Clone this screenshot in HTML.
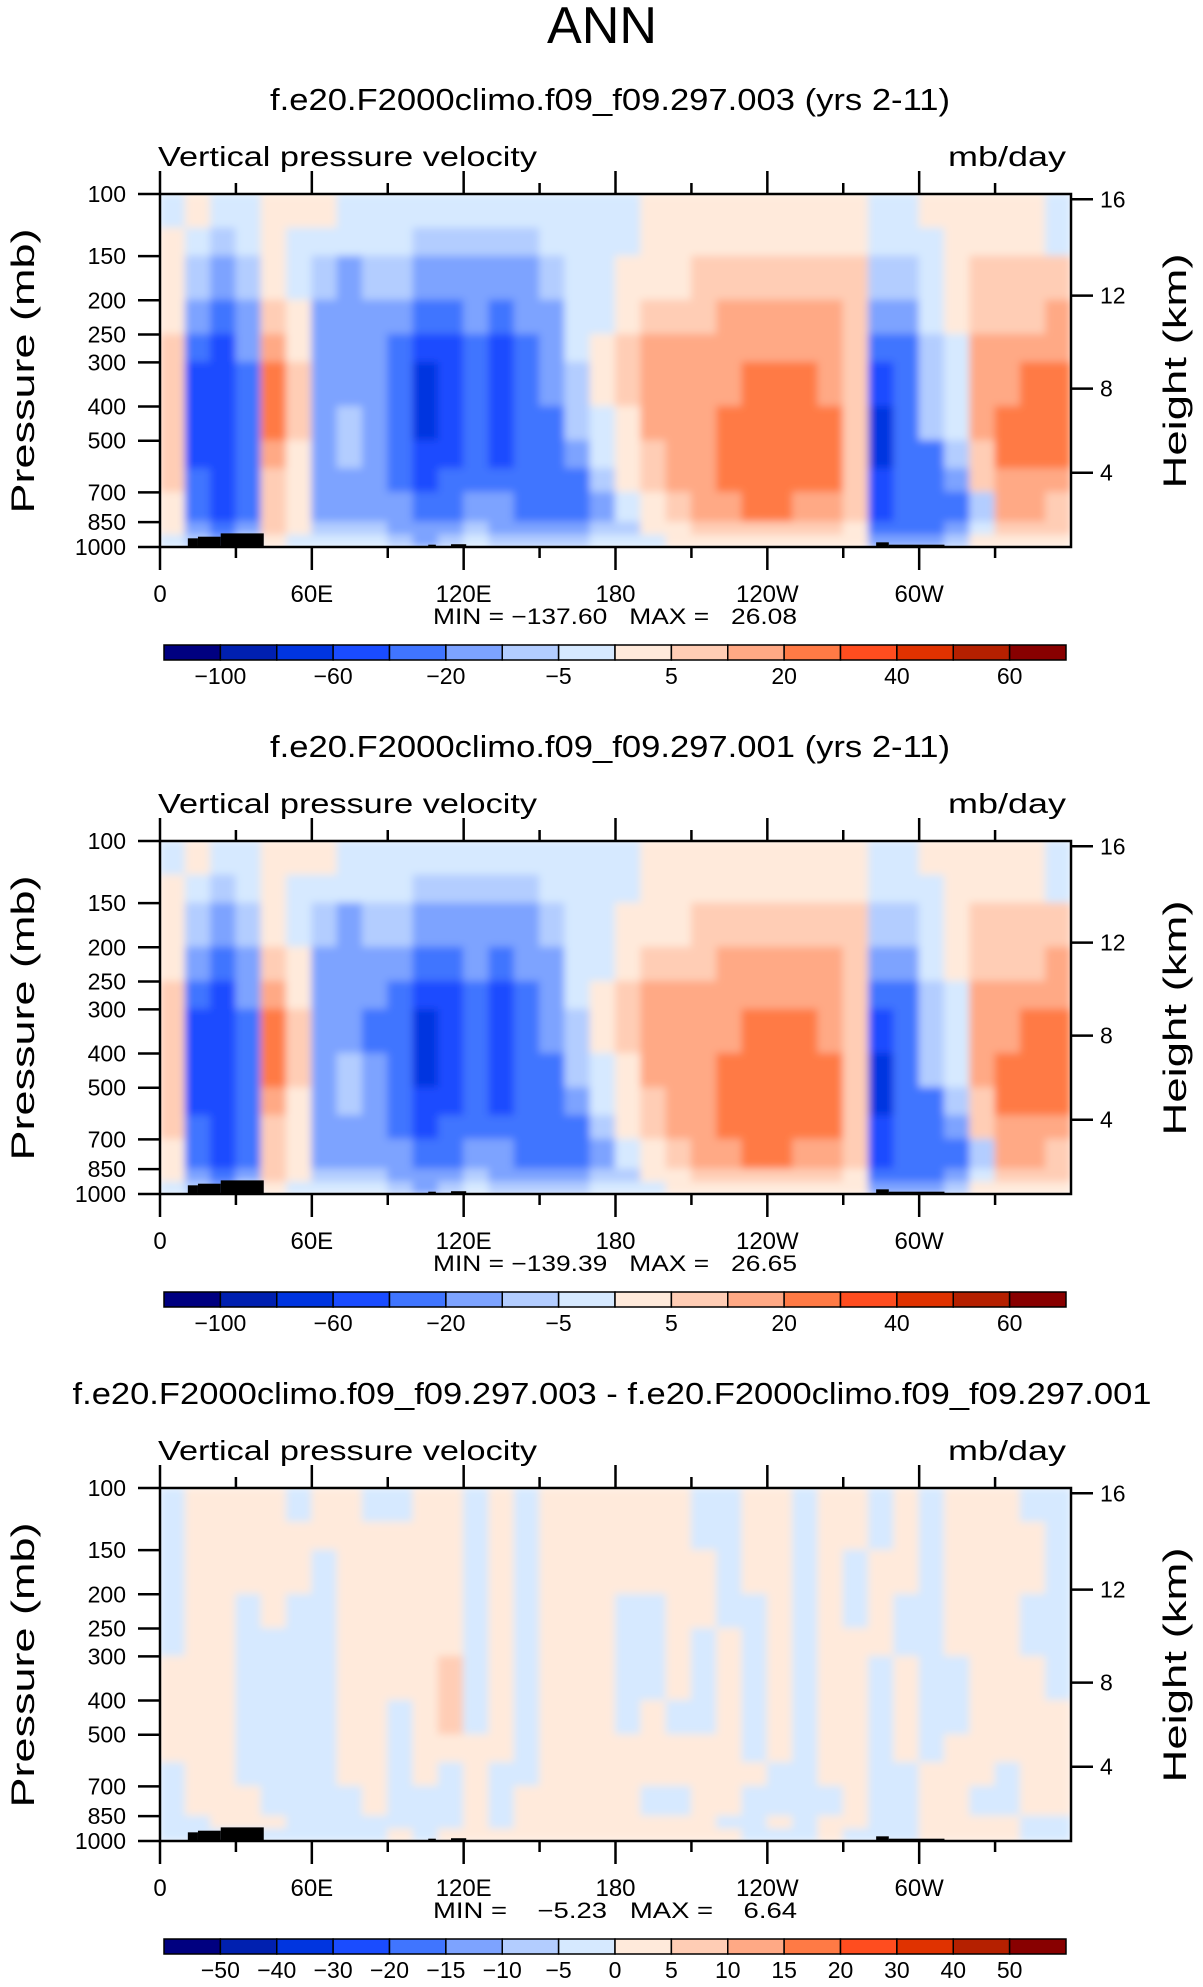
<!DOCTYPE html>
<html><head><meta charset="utf-8"><title>ANN vertical pressure velocity</title>
<style>
html,body{margin:0;padding:0;background:#fff;}
svg{display:block;font-family:"Liberation Sans",sans-serif;}
</style></head>
<body>
<svg id="fig" width="1203" height="1987" viewBox="0 0 1203 1987" xmlns="http://www.w3.org/2000/svg">
<defs>
<filter id="soft" filterUnits="userSpaceOnUse" x="0" y="0" width="1203" height="1987"><feGaussianBlur stdDeviation="4" edgeMode="duplicate"/></filter>
</defs>
<text x="602" y="43" font-size="52" text-anchor="middle" fill="#000" textLength="110" lengthAdjust="spacingAndGlyphs" style="font-weight:100">ANN</text>
</svg>
<script>
// ---- data ----
const lonLabels = ["0","60E","120E","180","120W","60W"];
const lonTicks = [0,60,120,180,240,300];
const presTicks = [100,150,200,250,300,400,500,700,850,1000];
const heightLabels = ["16","12","8","4"];
const heightPres = [103.5,194,356,616];
const presEdges = [100,125,150,200,250,300,400,500,600,700,850,925,1000];
const bounds12 = [-100,-80,-60,-40,-20,-10,-5,0,5,10,20,30,40,50,60];
const labels12 = ["","-100","","-60","","-20","","-5","","5","","20","","40","","60"];
const bounds3 = [-50,-40,-30,-20,-15,-10,-5,0,5,10,15,20,30,40,50];
const labels3 = ["","-50","-40","-30","-20","-15","-10","-5","0","5","10","15","20","30","40","50"];
const palette = ['#000080','#0020b0','#0035e0','#1a4cff','#4075ff','#7da3ff','#b3cdff','#d6e9ff','#ffeadb','#ffcdb5','#ffa985','#ff7a45','#ff4d1f','#e03200','#b52000','#880000'];
// topography: [lonStart, lonEnd, topPressure]
const topoLon0 = [11,15,24,106,115,283,288];
const topoLon1 = [15,24,41,109,121,288,310];
const topoTop  = [945,935,915,985,982,970,985];
const topo3Top = [945,935,915,985,982,970,985];
// omega columns (10 deg each, 0..360), each column top(100mb) -> bottom(1000mb)
const omega1 = [
[-2,2,2,2,7,7,7,7,7,2,2,-2],
[2,-2,-7,-15,-30,-50,-50,-50,-30,-30,-15,-7],
[-2,-7,-15,-30,-50,-50,-50,-50,-50,-50,-30,-15],
[-2,-2,-7,-15,-15,-30,-30,-30,-30,-30,-15,-2],
[2,2,2,7,15,25,25,15,7,7,7,2],
[2,-2,-2,2,2,7,7,2,2,2,2,-2],
[2,-2,-7,-15,-15,-15,-15,-15,-15,-15,-7,-2],
[-2,-2,-15,-15,-15,-15,-7,-7,-15,-15,-7,-2],
[-2,-2,-7,-15,-15,-15,-15,-15,-15,-15,-7,-2],
[-2,-2,-7,-15,-30,-30,-30,-30,-30,-15,-15,-7],
[-2,-7,-15,-30,-50,-70,-70,-50,-50,-30,-15,-15],
[-2,-7,-15,-30,-50,-50,-50,-50,-30,-30,-15,-7],
[-2,-7,-15,-15,-30,-30,-30,-30,-30,-15,-7,-2],
[-2,-7,-15,-30,-50,-50,-50,-50,-30,-15,-15,-7],
[-2,-7,-15,-15,-30,-30,-30,-30,-30,-30,-15,-7],
[-2,-2,-7,-15,-15,-15,-30,-30,-30,-30,-15,-7],
[-2,-2,-2,-2,-2,-7,-7,-15,-30,-30,-15,-7],
[-2,-2,-2,-2,2,2,-2,-2,-7,-15,-7,-2],
[-2,-2,2,2,7,7,2,2,2,-2,-7,-2],
[2,2,2,7,15,15,15,7,7,2,2,-2],
[2,2,2,7,15,15,15,15,15,7,2,2],
[2,2,7,7,15,15,15,15,15,15,7,2],
[2,2,7,15,15,15,25,25,25,15,7,2],
[2,2,7,15,15,25,25,25,25,25,7,2],
[2,2,7,15,15,25,25,25,25,25,7,2],
[2,2,7,15,15,25,25,25,25,15,7,2],
[2,2,7,15,15,15,25,25,25,15,7,2],
[2,2,7,7,7,7,7,7,7,7,2,2],
[-2,-2,-7,-15,-30,-50,-70,-70,-50,-50,-30,-15],
[-2,-2,-7,-15,-30,-30,-30,-30,-30,-30,-30,-15],
[2,-2,-2,-2,-7,-7,-7,-30,-30,-30,-30,-15],
[2,2,2,2,-2,-2,-2,-7,-15,-30,-15,-7],
[2,2,7,7,15,15,15,7,7,-7,-2,2],
[2,2,7,7,15,15,25,25,15,15,7,2],
[2,2,7,7,15,25,25,25,15,15,7,2],
[-2,-2,7,15,15,25,25,25,15,7,7,2]
];
const omega2 = [
[-2,2,2,2,7,7,7,7,7,2,2,-2],
[2,-2,-7,-15,-30,-50,-50,-50,-30,-30,-15,-7],
[-2,-7,-15,-30,-50,-50,-50,-50,-50,-50,-30,-15],
[-2,-2,-7,-15,-15,-30,-30,-30,-30,-30,-15,-2],
[2,2,2,7,15,25,25,15,7,7,7,2],
[2,-2,-2,2,2,7,7,2,2,2,2,-2],
[2,-2,-7,-15,-15,-15,-15,-15,-15,-15,-7,-2],
[-2,-2,-15,-15,-15,-15,-7,-7,-15,-15,-7,-2],
[-2,-2,-7,-15,-15,-30,-15,-15,-15,-15,-7,-2],
[-2,-2,-7,-15,-30,-30,-30,-30,-30,-15,-15,-7],
[-2,-7,-15,-30,-50,-70,-70,-50,-50,-30,-15,-15],
[-2,-7,-15,-30,-50,-50,-50,-50,-30,-30,-15,-7],
[-2,-7,-15,-15,-30,-30,-30,-30,-30,-15,-7,-2],
[-2,-7,-15,-30,-50,-50,-50,-50,-30,-15,-15,-7],
[-2,-7,-15,-15,-30,-30,-30,-30,-30,-30,-15,-7],
[-2,-2,-7,-15,-15,-15,-30,-30,-30,-30,-15,-7],
[-2,-2,-2,-2,-2,-7,-7,-15,-30,-30,-15,-7],
[-2,-2,-2,-2,2,2,-2,-2,-7,-15,-7,-2],
[-2,-2,2,2,7,7,2,2,2,-2,-7,-2],
[2,2,2,7,15,15,15,7,7,2,2,-2],
[2,2,2,7,15,15,15,15,15,7,2,2],
[2,2,7,7,15,15,15,15,15,15,7,2],
[2,2,7,15,15,15,25,25,25,15,7,2],
[2,2,7,15,15,25,25,25,25,25,7,2],
[2,2,7,15,15,25,25,25,25,25,7,2],
[2,2,7,15,15,25,25,25,25,15,7,2],
[2,2,7,15,15,15,25,25,25,15,7,2],
[2,2,7,7,7,7,7,7,7,7,2,2],
[-2,-2,-7,-15,-30,-50,-70,-70,-50,-50,-30,-15],
[-2,-2,-7,-15,-30,-30,-30,-30,-30,-30,-30,-15],
[2,-2,-2,-2,-7,-7,-7,-30,-30,-30,-30,-15],
[2,2,2,2,-2,-2,-2,-7,-15,-30,-15,-7],
[2,2,7,7,15,15,15,7,7,-7,-2,2],
[2,2,7,7,15,15,25,25,15,15,7,2],
[2,2,7,7,15,25,25,25,15,15,7,2],
[-2,-2,7,15,15,25,25,25,15,7,7,2]
];
const omegaDiff = [
[-2,-2,-2,-2,-2,2,2,2,-2,-2,-2,-2],
[2,2,2,2,2,2,2,2,2,2,-2,-2],
[2,2,2,2,2,2,2,2,2,2,2,-2],
[2,2,2,-2,-2,-2,-2,-2,-2,2,2,-2],
[2,2,2,2,-2,-2,-2,-2,-2,-2,2,-2],
[-2,2,2,-2,-2,-2,-2,-2,-2,-2,-2,-2],
[2,2,-2,-2,-2,-2,-2,-2,-2,-2,-2,-2],
[2,2,2,2,2,2,2,2,2,-2,-2,-2],
[-2,2,2,2,2,2,2,2,2,2,-2,-2],
[-2,2,2,2,2,2,-2,-2,-2,-2,-2,2],
[2,2,2,2,2,2,2,2,2,-2,-2,-2],
[2,2,2,2,2,7,7,2,-2,-2,-2,2],
[-2,-2,-2,-2,-2,-2,-2,2,2,2,2,2],
[2,2,2,2,2,2,2,2,-2,-2,-2,2],
[-2,-2,-2,-2,-2,-2,-2,-2,-2,2,2,2],
[2,2,2,2,2,2,2,2,2,2,2,2],
[2,2,2,2,2,2,2,2,2,2,2,2],
[2,2,2,2,2,2,2,2,2,2,2,2],
[2,2,2,-2,-2,-2,-2,2,2,2,2,2],
[2,2,2,-2,-2,-2,2,2,2,-2,2,2],
[2,2,2,2,2,2,-2,2,2,-2,2,2],
[-2,-2,2,2,-2,-2,-2,2,2,2,2,2],
[-2,-2,-2,-2,2,2,2,2,2,2,-2,2],
[2,2,2,-2,-2,-2,-2,-2,2,-2,-2,-2],
[2,2,2,2,2,2,2,2,-2,-2,2,-2],
[-2,-2,-2,-2,-2,-2,-2,-2,-2,-2,-2,-2],
[2,2,2,2,2,2,2,2,2,-2,2,2],
[2,2,-2,-2,2,2,2,2,2,2,2,-2],
[-2,-2,2,2,2,-2,-2,-2,-2,-2,-2,-2],
[2,2,2,-2,-2,2,2,2,-2,-2,-2,-2],
[-2,-2,-2,-2,-2,-2,-2,-2,2,2,2,2],
[2,2,2,2,2,-2,-2,2,2,2,2,2],
[2,2,2,2,2,2,2,2,2,-2,2,2],
[2,2,2,2,2,2,2,2,-2,-2,2,2],
[-2,2,2,-2,-2,2,2,2,2,2,-2,-2],
[-2,-2,-2,-2,-2,-2,2,2,2,2,-2,-2]
];
const subtitles = ["f.e20.F2000climo.f09_f09.297.003 (yrs 2-11)","f.e20.F2000climo.f09_f09.297.001 (yrs 2-11)","f.e20.F2000climo.f09_f09.297.003 - f.e20.F2000climo.f09_f09.297.001"];
const minmax = ["MIN = \u2212137.60   MAX =   26.08","MIN = \u2212139.39   MAX =   26.65","MIN =    \u22125.23   MAX =    6.64"];

// ---- drawing ----
const NS = "http://www.w3.org/2000/svg";
const svg = document.getElementById("fig");
const X0 = 160, X1 = 1071;
function mk(tag, attrs, parent){
  const e = document.createElementNS(NS, tag);
  for (const k in attrs) e.setAttribute(k, attrs[k]);
  (parent || svg).appendChild(e);
  return e;
}
function xOf(lon){ return X0 + (X1 - X0) * lon / 360; }
function colorFor(v, bounds){
  let i = 0;
  while (i < bounds.length && v >= bounds[i]) i++;
  return palette[i];
}

function panel(idx, data, bounds, labels, topTop){
  const off = idx * 647;
  const Y0 = 194 + off, Y1 = 547 + off;
  const yOf = p => Y0 + (Y1 - Y0) * Math.log10(p / 100);
  const g = mk("g", {});
  
  

  const st = mk("text", {x: idx === 2 ? 612 : 610, y: 110 + off, "font-size": 31, "text-anchor": "middle", textLength: idx === 2 ? 1079 : 680, lengthAdjust: "spacingAndGlyphs"}, g);
  
  
  st.textContent = subtitles[idx];

  const lt = mk("text", {x: 158, y: 166 + off, "font-size": 28, textLength: 379, lengthAdjust: "spacingAndGlyphs"}, g);
  
  
  lt.textContent = "Vertical pressure velocity";
  const ut = mk("text", {x: 1066, y: 166 + off, "font-size": 28, "text-anchor": "end", textLength: 118, lengthAdjust: "spacingAndGlyphs"}, g);
  
  
  ut.textContent = "mb/day";

  // field
  const clipId = "clip" + idx;
  const cp = mk("clipPath", {id: clipId}, g);
  mk("rect", {x: X0, y: Y0, width: X1 - X0, height: Y1 - Y0}, cp);
  const clipG = mk("g", {"clip-path": "url(#" + clipId + ")"}, g);
  const field = mk("g", {filter: "url(#soft)"}, clipG);
  
  
  data.forEach((col, c) => {
    col.forEach((v, r) => {
      const xa = xOf(c * 10), xb = xOf(c * 10 + 10);
      const ya = yOf(presEdges[r]), yb = yOf(presEdges[r + 1]);
      const cell = mk("rect", {x: xa - 0.5, y: ya - 0.5, width: xb - xa + 1, height: yb - ya + 1, fill: colorFor(v, bounds)}, field);
      
      
    });
  });
  // topography
  topoLon0.forEach((l0, i) => {
    const t = mk("rect", {x: xOf(l0), y: yOf(topTop[i]), width: xOf(topoLon1[i]) - xOf(l0), height: Y1 - yOf(topTop[i]), fill: "#000"}, clipG);
    
    
  });
  const frame = mk("rect", {x: X0, y: Y0, width: X1 - X0, height: Y1 - Y0, fill: "none", stroke: "#000", "stroke-width": 2.5}, g);
  
  

  // lon ticks
  for (let lon = 0; lon <= 330; lon += 30) {
    const major = lon % 60 === 0;
    const len = major ? 23 : 11;
    const x = xOf(lon);
    const t1 = mk("line", {x1: x, x2: x, y1: Y0, y2: Y0 - len, stroke: "#000", "stroke-width": 2.5}, g);
    
    
    const t2 = mk("line", {x1: x, x2: x, y1: Y1, y2: Y1 + len, stroke: "#000", "stroke-width": 2.5}, g);
    
    
  }
  lonTicks.forEach((lon, i) => {
    const tl = mk("text", {x: xOf(lon), y: 602 + off, "font-size": 24, "text-anchor": "middle"}, g);
    
    
    tl.textContent = lonLabels[i];
  });
  const mm = mk("text", {x: 615, y: 624 + off, "font-size": 22, "text-anchor": "middle", textLength: 364, lengthAdjust: "spacingAndGlyphs"}, g);
  
  
  mm.style.whiteSpace = "pre";
  mm.textContent = minmax[idx];

  // pressure ticks
  presTicks.forEach(p => {
    const y = yOf(p);
    const tk = mk("line", {x1: X0 - 22, x2: X0, y1: y, y2: y, stroke: "#000", "stroke-width": 2.5}, g);
    
    
    const tl = mk("text", {x: 126, y: y + 8, "font-size": 23, "text-anchor": "end"}, g);
    
    
    tl.textContent = String(p);
  });
  const yt = mk("text", {transform: "translate(34," + (371 + off) + ") rotate(-90)", "font-size": 32, "text-anchor": "middle", textLength: 285, lengthAdjust: "spacingAndGlyphs"}, g);
  
  
  yt.textContent = "Pressure  (mb)";

  heightPres.forEach((p, i) => {
    const y = yOf(p);
    const tk = mk("line", {x1: X1, x2: X1 + 22, y1: y, y2: y, stroke: "#000", "stroke-width": 2.5}, g);
    
    
    const tl = mk("text", {x: 1100, y: y + 8, "font-size": 23}, g);
    
    
    tl.textContent = heightLabels[i];
  });
  const ht = mk("text", {transform: "translate(1186," + (371 + off) + ") rotate(-90)", "font-size": 32, "text-anchor": "middle", textLength: 235, lengthAdjust: "spacingAndGlyphs"}, g);
  
  
  ht.textContent = "Height  (km)";

  // colorbar
  const cb = mk("g", {}, g);
  
  
  const cx0 = 164, cx1 = 1066, cy = 645 + off, ch = 15, w = (cx1 - cx0) / 16;
  palette.forEach((col, i) => {
    const b = mk("rect", {x: cx0 + i * w, y: cy, width: w, height: ch, fill: col, stroke: "#000", "stroke-width": 1.5}, cb);
    
    
  });
  labels.forEach((lab, i) => {
    if (!lab) return;
    const l = mk("text", {x: cx0 + i * w, y: cy + 39, "font-size": 23, "text-anchor": "middle"}, cb);
    
    
    l.textContent = lab.replace("-", "\u2212");
  });
}
panel(0, omega1, bounds12, labels12, topoTop);
panel(1, omega2, bounds12, labels12, topoTop);
panel(2, omegaDiff, bounds3, labels3, topo3Top);
</script>
</body></html>
